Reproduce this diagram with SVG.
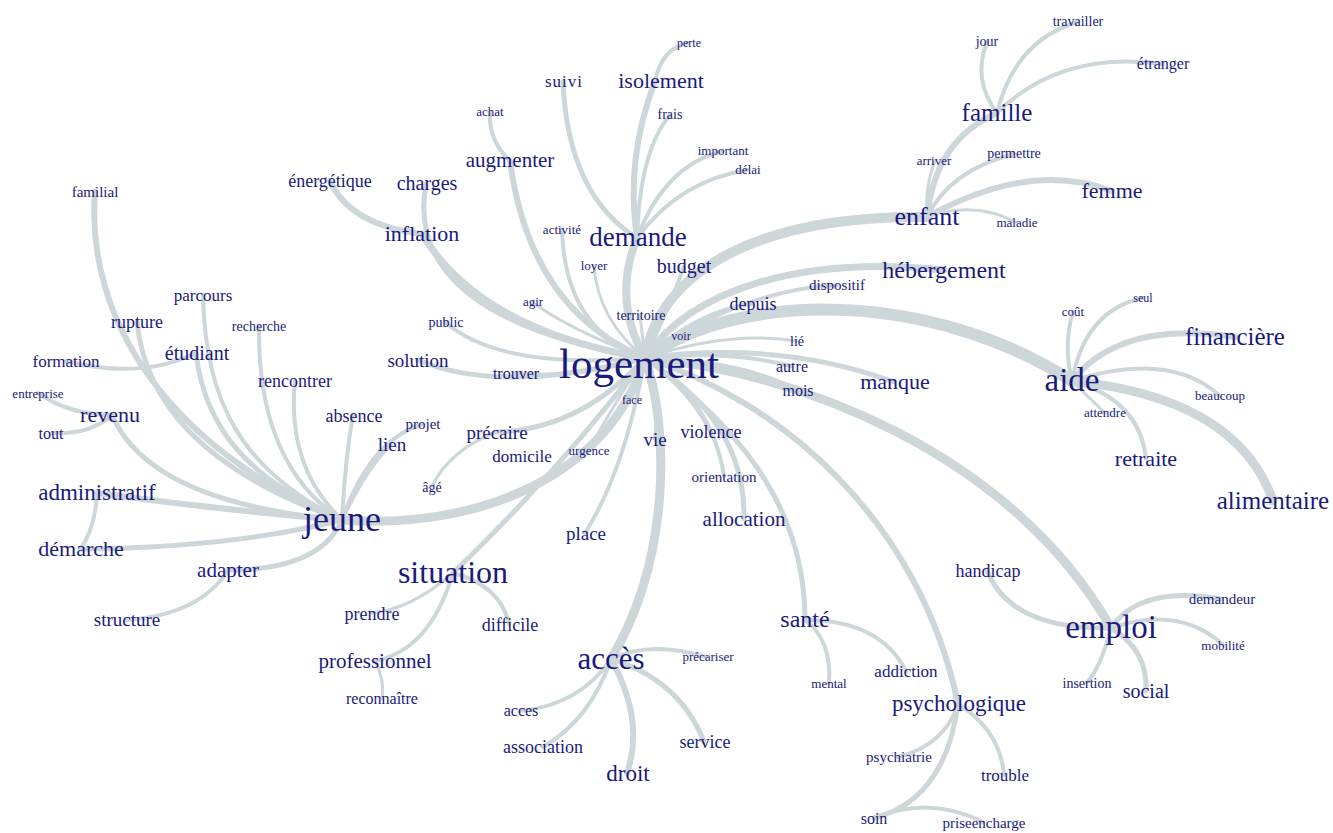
<svg xmlns="http://www.w3.org/2000/svg" width="1333" height="833" viewBox="0 0 1333 833">
<style>
.t{font-family:"Liberation Serif","Times New Roman",serif;fill:#1a1a7c;text-anchor:middle}
.c path{fill:none;stroke:#cdd6d9;stroke-linecap:round}
.w3{stroke-width:3}.w4{stroke-width:4}.w5{stroke-width:5}.w6{stroke-width:6}.w7{stroke-width:7}.w8{stroke-width:8}.w9{stroke-width:9}.w10{stroke-width:10}.w12{stroke-width:12}
</style>
<rect width="1333" height="833" fill="#ffffff"/>
<g id="connectors" class="c">
<path class="w8" d="M645,358 Q612,300 637,238"/>
<path class="w6" d="M645,358 Q530,310 510,161"/>
<path class="w4" d="M510,161 Q488,140 490,112"/>
<path class="w7" d="M645,358 Q480,330 422,234"/>
<path class="w5" d="M645,358 C480,330 410,270 426,184"/>
<path class="w6" d="M422,234 Q350,225 330,181"/>
<path class="w4" d="M645,358 Q565,330 562,230"/>
<path class="w3" d="M645,358 Q598,320 594,266"/>
<path class="w4" d="M645,358 Q668,310 684,267"/>
<path class="w3" d="M645,358 Q570,330 532,302"/>
<path class="w4" d="M645,358 Q500,370 445,322"/>
<path class="w5" d="M645,358 Q500,395 418,360"/>
<path class="w4" d="M645,358 Q570,380 515,373"/>
<path class="w3" d="M645,358 L640,315"/>
<path class="w3" d="M645,358 L680,337"/>
<path class="w3" d="M645,358 L631,399"/>
<path class="w4" d="M645,358 Q660,400 655,439"/>
<path class="w3" d="M645,358 Q610,410 589,450"/>
<path class="w5" d="M645,358 Q580,430 496,432"/>
<path class="w3" d="M496,432 Q450,450 432,486"/>
<path class="w9" d="M645,358 C610,475 480,530 342,520"/>
<path class="w4" d="M645,358 Q625,470 585,533"/>
<path class="w5" d="M645,358 Q560,470 453,573"/>
<path class="w9" d="M645,358 C670,430 670,560 611,659"/>
<path class="w4" d="M645,358 Q690,390 710,431"/>
<path class="w4" d="M645,358 Q712,400 724,476"/>
<path class="w5" d="M645,358 C710,400 745,450 744,519"/>
<path class="w5" d="M645,358 C730,420 805,500 805,620"/>
<path class="w6" d="M645,358 C780,400 920,520 958,704"/>
<path class="w9" d="M645,358 C790,370 1010,450 1111,628"/>
<path class="w5" d="M645,358 Q780,340 894,382"/>
<path class="w4" d="M645,358 Q740,360 797,390"/>
<path class="w4" d="M645,358 Q730,350 791,366"/>
<path class="w3" d="M645,358 Q730,330 797,341"/>
<path class="w12" d="M645,358 C740,290 930,290 1072,381"/>
<path class="w4" d="M645,358 Q700,310 752,304"/>
<path class="w4" d="M645,358 Q740,290 837,285"/>
<path class="w7" d="M645,358 C690,290 800,255 944,270"/>
<path class="w10" d="M645,358 C660,270 760,215 927,217"/>
<path class="w5" d="M637,238 Q568,195 563,82"/>
<path class="w6" d="M637,238 Q625,160 655,81"/>
<path class="w4" d="M655,81 Q662,48 688,43"/>
<path class="w4" d="M637,238 Q640,150 670,115"/>
<path class="w4" d="M637,238 Q665,165 723,151"/>
<path class="w4" d="M637,238 Q680,180 748,170"/>
<path class="w6" d="M927,217 Q935,140 997,113"/>
<path class="w3" d="M927,217 Q925,185 935,161"/>
<path class="w4" d="M927,217 Q950,170 1014,154"/>
<path class="w6" d="M927,217 Q1030,160 1112,191"/>
<path class="w3" d="M927,217 Q975,200 1017,223"/>
<path class="w4" d="M997,113 Q972,80 987,42"/>
<path class="w4" d="M997,113 Q1015,40 1078,22"/>
<path class="w4" d="M997,113 Q1060,50 1163,64"/>
<path class="w4" d="M1072,381 Q1063,345 1073,312"/>
<path class="w4" d="M1072,381 Q1085,310 1143,298"/>
<path class="w6" d="M1072,381 Q1120,320 1235,337"/>
<path class="w4" d="M1072,381 Q1170,350 1220,396"/>
<path class="w3" d="M1072,381 L1105,413"/>
<path class="w4" d="M1072,381 Q1140,400 1146,459"/>
<path class="w9" d="M1072,381 C1160,390 1245,420 1273,501"/>
<path class="w6" d="M342,520 C170,450 85,320 95,192"/>
<path class="w5" d="M342,520 C200,470 145,400 137,322"/>
<path class="w4" d="M342,520 C240,470 205,400 203,295"/>
<path class="w4" d="M342,520 C280,480 258,410 259,326"/>
<path class="w5" d="M342,520 C250,480 205,430 196,353"/>
<path class="w4" d="M342,520 C300,480 290,430 295,381"/>
<path class="w4" d="M196,353 Q140,380 66,361"/>
<path class="w5" d="M342,520 C230,510 140,480 112,415"/>
<path class="w4" d="M112,415 Q70,415 38,393"/>
<path class="w4" d="M112,415 Q90,435 52,433"/>
<path class="w6" d="M342,520 Q220,510 97,493"/>
<path class="w4" d="M97,493 Q95,530 80,549"/>
<path class="w5" d="M342,520 Q230,548 80,549"/>
<path class="w5" d="M342,520 Q320,570 228,570"/>
<path class="w4" d="M228,570 Q200,615 126,620"/>
<path class="w4" d="M342,520 Q345,460 353,415"/>
<path class="w4" d="M342,520 Q365,470 391,444"/>
<path class="w4" d="M342,520 Q370,440 423,424"/>
<path class="w3" d="M453,573 Q410,610 371,613"/>
<path class="w4" d="M453,573 Q500,585 509,624"/>
<path class="w4" d="M453,573 Q430,650 375,661"/>
<path class="w3" d="M375,661 Q385,680 382,699"/>
<path class="w4" d="M611,659 Q650,640 706,657"/>
<path class="w4" d="M611,659 Q580,705 520,711"/>
<path class="w4" d="M611,659 Q590,720 543,747"/>
<path class="w5" d="M611,659 Q680,680 704,742"/>
<path class="w6" d="M611,659 Q645,720 627,773"/>
<path class="w4" d="M805,620 Q832,640 829,683"/>
<path class="w4" d="M805,620 Q880,620 906,671"/>
<path class="w4" d="M958,704 Q945,745 898,757"/>
<path class="w4" d="M958,704 Q1000,730 1004,775"/>
<path class="w5" d="M958,704 Q945,800 874,818"/>
<path class="w4" d="M874,818 Q930,795 983,822"/>
<path class="w5" d="M1111,628 Q1010,630 987,570"/>
<path class="w5" d="M1111,628 Q1140,585 1221,599"/>
<path class="w4" d="M1111,628 Q1180,605 1223,645"/>
<path class="w4" d="M1111,628 Q1100,670 1086,683"/>
<path class="w5" d="M1111,628 Q1148,650 1146,691"/>
</g>
<g id="n-logement"><text class="t" x="639" y="378" font-size="43">logement</text></g>
<g id="n-demande"><text class="t" x="638" y="246" font-size="27">demande</text></g>
<g id="n-isolement"><text class="t" x="661" y="88" font-size="22">isolement</text></g>
<g id="n-perte"><text class="t" x="689" y="47" font-size="12">perte</text></g>
<g id="n-suivi"><text class="t" x="564" y="87" font-size="17" letter-spacing="1">suivi</text></g>
<g id="n-frais"><text class="t" x="670" y="119" font-size="14">frais</text></g>
<g id="n-achat"><text class="t" x="490" y="116" font-size="13">achat</text></g>
<g id="n-important"><text class="t" x="723" y="155" font-size="13">important</text></g>
<g id="n-delai"><text class="t" x="748" y="174" font-size="13">délai</text></g>
<g id="n-augmenter"><text class="t" x="510" y="167" font-size="21">augmenter</text></g>
<g id="n-activite"><text class="t" x="562" y="234" font-size="13">activité</text></g>
<g id="n-loyer"><text class="t" x="594" y="270" font-size="13">loyer</text></g>
<g id="n-budget"><text class="t" x="684" y="273" font-size="20">budget</text></g>
<g id="n-charges"><text class="t" x="427" y="190" font-size="20">charges</text></g>
<g id="n-energetique"><text class="t" x="330" y="187" font-size="18">énergétique</text></g>
<g id="n-inflation"><text class="t" x="422" y="241" font-size="22">inflation</text></g>
<g id="n-familial"><text class="t" x="95" y="197" font-size="15">familial</text></g>
<g id="n-enfant"><text class="t" x="927" y="225" font-size="26">enfant</text></g>
<g id="n-famille"><text class="t" x="997" y="121" font-size="25">famille</text></g>
<g id="n-jour"><text class="t" x="987" y="46" font-size="14">jour</text></g>
<g id="n-travailler"><text class="t" x="1078" y="26" font-size="14">travailler</text></g>
<g id="n-etranger"><text class="t" x="1163" y="69" font-size="16">étranger</text></g>
<g id="n-arriver"><text class="t" x="934" y="165" font-size="13">arriver</text></g>
<g id="n-permettre"><text class="t" x="1014" y="158" font-size="14">permettre</text></g>
<g id="n-femme"><text class="t" x="1112" y="198" font-size="22">femme</text></g>
<g id="n-maladie"><text class="t" x="1017" y="227" font-size="13">maladie</text></g>
<g id="n-hebergement"><text class="t" x="944" y="278" font-size="24">hébergement</text></g>
<g id="n-dispositif"><text class="t" x="837" y="290" font-size="15">dispositif</text></g>
<g id="n-depuis"><text class="t" x="753" y="310" font-size="18">depuis</text></g>
<g id="n-aide"><text class="t" x="1072" y="391" font-size="33">aide</text></g>
<g id="n-cout"><text class="t" x="1073" y="316" font-size="13">coût</text></g>
<g id="n-seul"><text class="t" x="1143" y="302" font-size="12">seul</text></g>
<g id="n-financiere"><text class="t" x="1235" y="345" font-size="25">financière</text></g>
<g id="n-beaucoup"><text class="t" x="1220" y="400" font-size="13">beaucoup</text></g>
<g id="n-attendre"><text class="t" x="1105" y="417" font-size="13">attendre</text></g>
<g id="n-retraite"><text class="t" x="1146" y="466" font-size="22">retraite</text></g>
<g id="n-alimentaire"><text class="t" x="1273" y="509" font-size="25">alimentaire</text></g>
<g id="n-voir"><text class="t" x="681" y="340" font-size="12">voir</text></g>
<g id="n-lie"><text class="t" x="797" y="346" font-size="14">lié</text></g>
<g id="n-autre"><text class="t" x="792" y="372" font-size="16">autre</text></g>
<g id="n-mois"><text class="t" x="798" y="396" font-size="16">mois</text></g>
<g id="n-manque"><text class="t" x="895" y="389" font-size="22">manque</text></g>
<g id="n-violence"><text class="t" x="711" y="438" font-size="18">violence</text></g>
<g id="n-orientation"><text class="t" x="724" y="482" font-size="15">orientation</text></g>
<g id="n-allocation"><text class="t" x="744" y="526" font-size="21">allocation</text></g>
<g id="n-vie"><text class="t" x="655" y="446" font-size="19">vie</text></g>
<g id="n-face"><text class="t" x="632" y="404" font-size="12">face</text></g>
<g id="n-territoire"><text class="t" x="641" y="320" font-size="14">territoire</text></g>
<g id="n-agir"><text class="t" x="533" y="306" font-size="13">agir</text></g>
<g id="n-public"><text class="t" x="446" y="327" font-size="14">public</text></g>
<g id="n-solution"><text class="t" x="418" y="367" font-size="19">solution</text></g>
<g id="n-trouver"><text class="t" x="516" y="379" font-size="16">trouver</text></g>
<g id="n-absence"><text class="t" x="354" y="422" font-size="18">absence</text></g>
<g id="n-projet"><text class="t" x="423" y="429" font-size="15">projet</text></g>
<g id="n-precaire"><text class="t" x="497" y="439" font-size="19">précaire</text></g>
<g id="n-domicile"><text class="t" x="522" y="462" font-size="17">domicile</text></g>
<g id="n-urgence"><text class="t" x="589" y="455" font-size="13">urgence</text></g>
<g id="n-lien"><text class="t" x="392" y="451" font-size="19">lien</text></g>
<g id="n-age"><text class="t" x="432" y="492" font-size="14">âgé</text></g>
<g id="n-place"><text class="t" x="586" y="540" font-size="19">place</text></g>
<g id="n-jeune"><text class="t" x="342" y="531" font-size="36">jeune</text></g>
<g id="n-parcours"><text class="t" x="203" y="301" font-size="17">parcours</text></g>
<g id="n-rupture"><text class="t" x="137" y="328" font-size="18">rupture</text></g>
<g id="n-recherche"><text class="t" x="259" y="331" font-size="14">recherche</text></g>
<g id="n-etudiant"><text class="t" x="197" y="360" font-size="20">étudiant</text></g>
<g id="n-formation"><text class="t" x="66" y="367" font-size="17">formation</text></g>
<g id="n-rencontrer"><text class="t" x="295" y="387" font-size="18">rencontrer</text></g>
<g id="n-entreprise"><text class="t" x="38" y="398" font-size="13">entreprise</text></g>
<g id="n-revenu"><text class="t" x="110" y="422" font-size="22">revenu</text></g>
<g id="n-tout"><text class="t" x="51" y="439" font-size="16">tout</text></g>
<g id="n-administratif"><text class="t" x="97" y="500" font-size="23">administratif</text></g>
<g id="n-demarche"><text class="t" x="81" y="556" font-size="22">démarche</text></g>
<g id="n-adapter"><text class="t" x="228" y="577" font-size="21">adapter</text></g>
<g id="n-structure"><text class="t" x="127" y="626" font-size="19">structure</text></g>
<g id="n-situation"><text class="t" x="453" y="583" font-size="32">situation</text></g>
<g id="n-prendre"><text class="t" x="372" y="620" font-size="18">prendre</text></g>
<g id="n-difficile"><text class="t" x="510" y="631" font-size="18">difficile</text></g>
<g id="n-professionnel"><text class="t" x="375" y="668" font-size="21">professionnel</text></g>
<g id="n-reconnaitre"><text class="t" x="382" y="704" font-size="16">reconnaître</text></g>
<g id="n-acces"><text class="t" x="611" y="669" font-size="31">accès</text></g>
<g id="n-precariser"><text class="t" x="708" y="661" font-size="13">précariser</text></g>
<g id="n-acces2"><text class="t" x="521" y="716" font-size="16">acces</text></g>
<g id="n-association"><text class="t" x="543" y="753" font-size="18">association</text></g>
<g id="n-service"><text class="t" x="705" y="748" font-size="18">service</text></g>
<g id="n-droit"><text class="t" x="628" y="781" font-size="23">droit</text></g>
<g id="n-sante"><text class="t" x="805" y="627" font-size="24">santé</text></g>
<g id="n-mental"><text class="t" x="829" y="688" font-size="13">mental</text></g>
<g id="n-addiction"><text class="t" x="906" y="677" font-size="17">addiction</text></g>
<g id="n-psychologique"><text class="t" x="959" y="711" font-size="23">psychologique</text></g>
<g id="n-psychiatrie"><text class="t" x="899" y="762" font-size="15">psychiatrie</text></g>
<g id="n-trouble"><text class="t" x="1005" y="781" font-size="17">trouble</text></g>
<g id="n-soin"><text class="t" x="874" y="824" font-size="16">soin</text></g>
<g id="n-priseencharge"><text class="t" x="984" y="828" font-size="15">priseencharge</text></g>
<g id="n-emploi"><text class="t" x="1111" y="638" font-size="33">emploi</text></g>
<g id="n-handicap"><text class="t" x="988" y="577" font-size="18">handicap</text></g>
<g id="n-demandeur"><text class="t" x="1222" y="604" font-size="15">demandeur</text></g>
<g id="n-mobilite"><text class="t" x="1223" y="650" font-size="13">mobilité</text></g>
<g id="n-insertion"><text class="t" x="1087" y="688" font-size="14">insertion</text></g>
<g id="n-social"><text class="t" x="1146" y="698" font-size="20">social</text></g>
</svg>
